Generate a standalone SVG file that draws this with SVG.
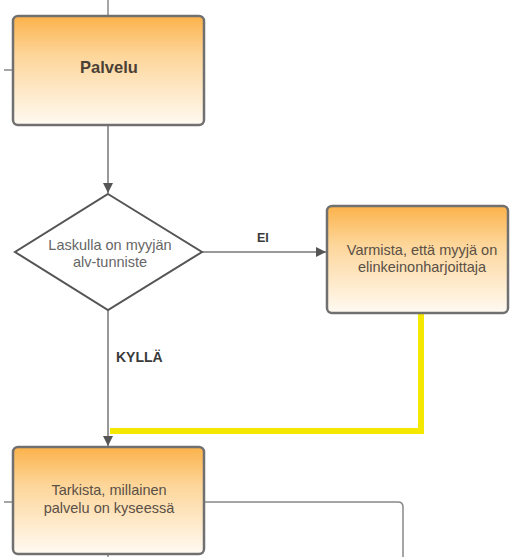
<svg xmlns="http://www.w3.org/2000/svg" width="511" height="557" viewBox="0 0 511 557">
  <defs>
    <linearGradient id="orange" x1="0" y1="0" x2="0" y2="1">
      <stop offset="0" stop-color="#fbb24a"/>
      <stop offset="0.35" stop-color="#fdd598"/>
      <stop offset="1" stop-color="#fffaf2"/>
    </linearGradient>
    <marker id="arrow" viewBox="0 0 10 10" refX="10" refY="5" markerWidth="10" markerHeight="10" markerUnits="userSpaceOnUse" orient="auto">
      <path d="M0,0 L10,5 L0,10 z" fill="#555"/>
    </marker>
    <style>
      .box { fill: url(#orange); stroke: #707070; stroke-width: 2.5; }
      .diamond { fill: #ffffff; stroke: #555; stroke-width: 2; }
      .txt { font-family: "Liberation Sans", Arial, sans-serif; font-size: 14.5px; fill: #5a5046; text-anchor: middle; }
      .dtxt { fill: #666; }
      .title { font-size: 16.5px; font-weight: bold; fill: #4a4036; }
      .label { font-family: "Liberation Sans", Arial, sans-serif; font-size: 14px; font-weight: bold; fill: #3a3a3a; }
      .line { fill: none; stroke: #888; stroke-width: 1.5; }
      .flow { fill: none; stroke: #777; stroke-width: 1.5; }
      .hi { fill: none; stroke: #f5e800; stroke-width: 6; }
    </style>
  </defs>

  <g id="connectors">
    <!-- stubs leaving the frame -->
    <line class="line" x1="108" y1="0" x2="108" y2="16"/>
    <line class="line" x1="4" y1="70" x2="12" y2="70"/>
    <line class="line" x1="4" y1="502" x2="13" y2="502"/>
    <line class="line" x1="108" y1="554" x2="108" y2="557"/>
    <!-- Palvelu to decision -->
    <line class="flow" x1="108" y1="126" x2="108" y2="193" marker-end="url(#arrow)"/>
    <!-- EI branch -->
    <line class="flow" x1="202" y1="252" x2="326" y2="252" marker-end="url(#arrow)"/>
    <!-- KYLLÄ branch -->
    <line class="flow" x1="108" y1="310" x2="108" y2="446" marker-end="url(#arrow)"/>
    <!-- highlighted return path -->
    <polyline class="hi" points="421,314 421,431 110,431"/>
    <!-- outgoing to the right -->
    <path class="line" d="M204,502 H398 Q403,502 403,507 V557"/>
    <text class="label" x="257" y="242" style="font-size:12.5px">EI</text>
    <text class="label" x="116" y="362">KYLLÄ</text>
  </g>

  <g id="palvelu">
    <rect class="box" x="13" y="16" width="191" height="109" rx="5"/>
    <text class="txt title" x="109" y="73">Palvelu</text>
  </g>

  <g id="alv-tunniste">
    <polygon class="diamond" points="108,194 202,252 108,310 15,252"/>
    <text class="txt dtxt" x="110" y="250">Laskulla on myyjän</text>
    <text class="txt dtxt" x="110" y="267">alv-tunniste</text>
  </g>

  <g id="varmista">
    <rect class="box" x="327" y="206" width="181" height="107" rx="5"/>
    <text class="txt" x="422" y="255">Varmista, että myyjä on</text>
    <text class="txt" x="422" y="272">elinkeinonharjoittaja</text>
  </g>

  <g id="tarkista">
    <rect class="box" x="13" y="447" width="191" height="107" rx="5"/>
    <text class="txt" x="109" y="495">Tarkista, millainen</text>
    <text class="txt" x="109" y="513">palvelu on kyseessä</text>
  </g>
</svg>
